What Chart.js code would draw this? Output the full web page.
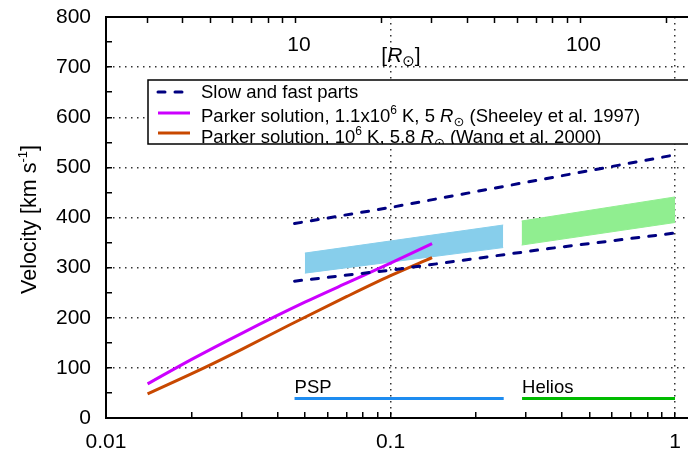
<!DOCTYPE html>
<html>
<head>
<meta charset="utf-8">
<script src="https://cdn.jsdelivr.net/npm/chart.js@4.4.1/dist/chart.umd.min.js"></script>
<style>
  html, body { margin: 0; padding: 0; background: #fff; }
  #wrap { width: 688px; height: 455px; }
</style>
</head>
<body>
<div id="wrap"><canvas id="velocityChart" width="688" height="455"></canvas></div>
<script>
// Solar wind velocity vs. heliocentric distance (AU bottom, solar radii top)

const AU_IN_RSUN = 215;
const X_MIN_AU = 0.01;
const X_MAX_AU = 1.111;
const Y_MIN = 0;
const Y_MAX = 800;

// tick positions / labels
const xTicksAU = [0.01, 0.02, 0.03, 0.04, 0.05, 0.06, 0.07, 0.08, 0.09,
                  0.1, 0.2, 0.3, 0.4, 0.5, 0.6, 0.7, 0.8, 0.9, 1];
const xLabelsAU = [0.01, 0.1, 1];
const xGridAU = [0.1, 1];
const topTicksRsun = [3, 4, 5, 6, 7, 8, 9, 10, 20, 30, 40, 50, 60, 70, 80, 90, 100, 200];
const topLabelsRsun = [10, 100];
const yTickStep = 50;
const yLabelStep = 100;

// slow and fast parts (dashed)
const slowUpperAU = [0.046, 0.1, 0.25, 1];
const slowUpperV = [388, 420, 462, 525];
const slowLowerAU = [0.046, 0.1, 0.36, 1];
const slowLowerV = [273, 295, 338, 369];

// Parker solutions
const sheeleyAU = [0.014, 0.02, 0.03, 0.05, 0.07, 0.1, 0.14];
const sheeleyV = [68, 117, 169, 231, 269, 309, 348];
const wangAU = [0.014, 0.0223, 0.03, 0.0443, 0.07, 0.1, 0.14];
const wangV = [48, 101, 137, 186, 242, 284, 320];

// observed speed bands
const pspBandAU = [0.050, 0.249];
const pspBandLow = [289, 340];
const pspBandHigh = [329, 385];
const heliosBandAU = [0.289, 1];
const heliosBandLow = [345, 390];
const heliosBandHigh = [393, 441];

// mission coverage
const pspRangeAU = [0.046, 0.25];
const pspRangeV = [39, 39];
const heliosRangeAU = [0.29, 1];
const heliosRangeV = [39, 39];

const FONT = '"Liberation Sans", Arial, sans-serif';
const NAVY = '#000080';
const MAGENTA = '#CC00FF';
const RUST = '#C84800';
const SKY = '#87CEEB';
const LIGHTGREEN = '#90EE90';
const PSP_BLUE = '#1E8CF0';
const HELIOS_GREEN = '#00BB00';
const GRID_DOT = '#333';

function pts(xs, ys) {
  return xs.map((x, i) => ({ x: x, y: ys[i] }));
}

function richWidth(ctx, parts) {
  let w = 0;
  parts.forEach(p => { ctx.font = p.font; w += ctx.measureText(p.text).width; });
  return w;
}

function drawRich(ctx, x, y, parts) {
  parts.forEach(p => {
    ctx.font = p.font;
    ctx.fillText(p.text, x, y + (p.dy || 0));
    x += ctx.measureText(p.text).width;
  });
}

const base21 = '21px ' + FONT;
const ital21 = 'italic 21px ' + FONT;
const base18 = '18.5px ' + FONT;
const ital18 = 'italic 18.5px ' + FONT;
const sup12 = '12px ' + FONT;
const sun = '13px "DejaVu Sans", sans-serif';

// titles, top tick labels, mission labels and the legend box
const overlayPlugin = {
  id: 'overlay',
  afterDraw(chart) {
    const ctx = chart.ctx;
    const area = chart.chartArea;
    const xs = chart.scales.x;
    const xTop = chart.scales.x2;
    const ys = chart.scales.y;
    ctx.save();
    ctx.fillStyle = '#000';
    ctx.textBaseline = 'alphabetic';
    ctx.textAlign = 'left';

    // y axis title
    const yTitle = [
      { text: 'Velocity [km s', font: '21.5px ' + FONT },
      { text: '-1', font: '13px ' + FONT, dy: -9 },
      { text: ']', font: '21.5px ' + FONT }
    ];
    ctx.save();
    ctx.translate(36, (area.top + area.bottom) / 2 + 2);
    ctx.rotate(-Math.PI / 2);
    drawRich(ctx, -richWidth(ctx, yTitle) / 2, 0, yTitle);
    ctx.restore();

    // top axis tick labels (inside the frame)
    ctx.font = base21;
    ctx.textAlign = 'center';
    ctx.textBaseline = 'middle';
    topLabelsRsun.forEach(v => {
      ctx.fillText(String(v), xTop.getPixelForValue(v) + 3, 45);
    });
    ctx.textAlign = 'left';
    ctx.textBaseline = 'alphabetic';

    // top axis title
    const topTitle = [
      { text: '[', font: base21 },
      { text: 'R', font: ital21 },
      { text: '\u2299', font: '15px "DejaVu Sans", sans-serif', dy: 4 },
      { text: ']', font: base21 }
    ];
    drawRich(ctx, 401 - richWidth(ctx, topTitle) / 2, 62, topTitle);

    // mission labels
    ctx.font = base18;
    ctx.fillText('PSP', xs.getPixelForValue(pspRangeAU[0]), ys.getPixelForValue(pspRangeV[0]) - 5);
    ctx.fillText('Helios', xs.getPixelForValue(heliosRangeAU[0]), ys.getPixelForValue(heliosRangeV[0]) - 5);

    // legend box
    const bx = 148, by = 80, bw = 600, bh = 64;
    ctx.fillStyle = '#fff';
    ctx.fillRect(bx, by, bw, bh);
    ctx.save();
    ctx.beginPath();
    ctx.rect(bx, by, bw, bh);
    ctx.clip();

    const rows = [
      { y: 92, tb: 98, color: NAVY, dash: [7, 10],
        parts: [{ text: 'Slow and fast parts', font: base18 }] },
      { y: 113, tb: 122, color: MAGENTA, dash: [],
        parts: [
          { text: 'Parker solution, 1.1x10', font: base18 },
          { text: '6', font: sup12, dy: -8 },
          { text: ' K, 5 ', font: base18 },
          { text: 'R', font: ital18 },
          { text: '\u2299', font: sun, dy: 4 },
          { text: ' (Sheeley et al. 1997)', font: base18 }
        ] },
      { y: 133, tb: 143, color: RUST, dash: [],
        parts: [
          { text: 'Parker solution, 10', font: base18 },
          { text: '6', font: sup12, dy: -8 },
          { text: ' K, 5.8 ', font: base18 },
          { text: 'R', font: ital18 },
          { text: '\u2299', font: sun, dy: 4 },
          { text: ' (Wang et al. 2000)', font: base18 }
        ] }
    ];
    rows.forEach(r => {
      ctx.beginPath();
      ctx.strokeStyle = r.color;
      ctx.lineWidth = 3;
      ctx.lineCap = r.dash.length ? 'round' : 'butt';
      ctx.setLineDash(r.dash);
      ctx.moveTo(158, r.y);
      ctx.lineTo(190, r.y);
      ctx.stroke();
      ctx.setLineDash([]);
      ctx.fillStyle = '#000';
      drawRich(ctx, 201, r.tb, r.parts);
    });
    ctx.restore();

    ctx.strokeStyle = '#000';
    ctx.lineWidth = 1.5;
    ctx.strokeRect(bx, by, bw, bh);
    ctx.restore();
  }
};

function fixedSize(prop, size) {
  return function (scale) {
    scale[prop] = size;
    scale.paddingLeft = 0;
    scale.paddingRight = 0;
    scale.paddingTop = 0;
    scale.paddingBottom = 0;
  };
}

function setTicks(values) {
  return function (scale) {
    scale.ticks = values.map(v => ({ value: v }));
  };
}

const lineBase = { pointRadius: 0, fill: false, tension: 0, borderWidth: 3 };

const ctx = document.getElementById('velocityChart').getContext('2d');
new Chart(ctx, {
  type: 'line',
  data: {
    datasets: [
      Object.assign({}, lineBase, { label: 'psp band low', data: pts(pspBandAU, pspBandLow),
        borderColor: SKY, borderWidth: 1, order: 10 }),
      Object.assign({}, lineBase, { label: 'psp band high', data: pts(pspBandAU, pspBandHigh),
        borderColor: SKY, borderWidth: 1, backgroundColor: SKY, fill: '-1', order: 10 }),
      Object.assign({}, lineBase, { label: 'helios band low', data: pts(heliosBandAU, heliosBandLow),
        borderColor: LIGHTGREEN, borderWidth: 1, order: 10 }),
      Object.assign({}, lineBase, { label: 'helios band high', data: pts(heliosBandAU, heliosBandHigh),
        borderColor: LIGHTGREEN, borderWidth: 1, backgroundColor: LIGHTGREEN, fill: '-1', order: 10 }),
      Object.assign({}, lineBase, { label: 'Slow and fast parts', data: pts(slowUpperAU, slowUpperV),
        borderColor: NAVY, borderDash: [7, 10], borderCapStyle: 'round' }),
      Object.assign({}, lineBase, { label: 'Slow and fast parts (low)', data: pts(slowLowerAU, slowLowerV),
        borderColor: NAVY, borderDash: [7, 10], borderCapStyle: 'round' }),
      Object.assign({}, lineBase, { label: 'Sheeley et al. 1997', data: pts(sheeleyAU, sheeleyV),
        borderColor: MAGENTA, cubicInterpolationMode: 'monotone' }),
      Object.assign({}, lineBase, { label: 'Wang et al. 2000', data: pts(wangAU, wangV),
        borderColor: RUST, cubicInterpolationMode: 'monotone' }),
      Object.assign({}, lineBase, { label: 'PSP', data: pts(pspRangeAU, pspRangeV),
        borderColor: PSP_BLUE }),
      Object.assign({}, lineBase, { label: 'Helios', data: pts(heliosRangeAU, heliosRangeV),
        borderColor: HELIOS_GREEN })
    ]
  },
  options: {
    responsive: false,
    animation: false,
    devicePixelRatio: 1,
    layout: { padding: 0 },
    plugins: {
      legend: { display: false },
      tooltip: { enabled: false },
      title: { display: false }
    },
    scales: {
      x: {
        type: 'logarithmic',
        position: 'bottom',
        min: X_MIN_AU,
        max: X_MAX_AU,
        bounds: 'data',
        afterBuildTicks: setTicks(xTicksAU),
        afterFit: fixedSize('height', 37),
        ticks: {
          autoSkip: false,
          maxRotation: 0,
          padding: 18,
          color: '#000',
          font: { family: FONT, size: 21 },
          callback: v => (xLabelsAU.includes(v) ? String(v) : '')
        },
        grid: {
          color: c => (c.tick && xGridAU.includes(c.tick.value) ? GRID_DOT : 'rgba(0,0,0,0)'),
          lineWidth: 1.5,
          tickColor: '#000',
          tickWidth: 1.5,
          tickLength: -6
        },
        border: { display: true, color: '#000', width: 2, dash: [1.5, 4.5] }
      },
      x2: {
        type: 'logarithmic',
        position: 'top',
        min: X_MIN_AU * AU_IN_RSUN,
        max: X_MAX_AU * AU_IN_RSUN,
        bounds: 'data',
        afterBuildTicks: setTicks(topTicksRsun),
        afterFit: fixedSize('height', 17),
        ticks: {
          autoSkip: false,
          maxRotation: 0,
          callback: () => ''
        },
        grid: {
          drawOnChartArea: false,
          tickColor: '#000',
          tickWidth: 1.5,
          tickLength: -6
        },
        border: { display: true, color: '#000', width: 2 }
      },
      y: {
        type: 'linear',
        position: 'left',
        min: Y_MIN,
        max: Y_MAX,
        afterFit: fixedSize('width', 106),
        ticks: {
          stepSize: yTickStep,
          autoSkip: false,
          padding: 21,
          color: '#000',
          font: { family: FONT, size: 21 },
          callback: v => (v % yLabelStep === 0 ? String(v) : '')
        },
        grid: {
          color: c => (c.tick && c.tick.value % yLabelStep === 0 && c.tick.value > Y_MIN && c.tick.value < Y_MAX
            ? GRID_DOT : 'rgba(0,0,0,0)'),
          lineWidth: 1.5,
          tickColor: '#000',
          tickWidth: 1.5,
          tickLength: -6
        },
        border: { display: true, color: '#000', width: 2, dash: [1.5, 4.5] }
      }
    }
  },
  plugins: [overlayPlugin]
});
</script>
</body>
</html>
